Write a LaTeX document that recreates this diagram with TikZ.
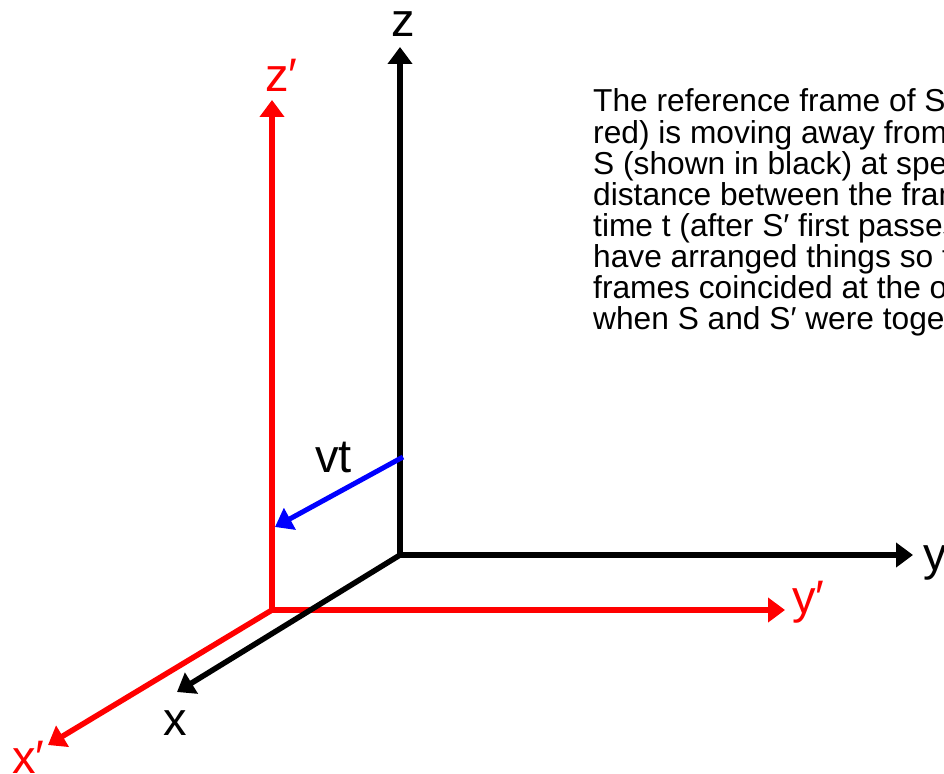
\documentclass[tikz,border=0pt]{standalone}
\usepackage{fontspec}
\setmainfont{Liberation Sans}
\usetikzlibrary{arrows.meta}
\definecolor{pred}{RGB}{255,0,0}
\definecolor{pblue}{RGB}{0,0,255}
\begin{document}
\begin{tikzpicture}[x=1pt,y=-1pt,
  axisline/.style={line width=5.5pt, line join=miter},
  tipend/.style={-{Triangle[length=17pt,width=24pt]}},
  tipboth/.style={{Triangle[length=17pt,width=24pt]}-{Triangle[length=17pt,width=24pt]}},
  lab/.style={font=\fontsize{47}{47}\selectfont, inner sep=0pt, anchor=base west},
  body/.style={font=\fontsize{31.7}{31}\selectfont, inner sep=0pt, anchor=base west}]
\useasboundingbox (0,0) rectangle (944,773);
\clip (0,0) rectangle (944,773);
% coordinates
\coordinate (O) at (400,555);
\coordinate (ztip) at (400,47);
\coordinate (ytip) at (913,555);
\coordinate (xtip) at (177,692);
\coordinate (Op) at (272,610);
\coordinate (zptip) at (272,100);
\coordinate (yptip) at (785,610);
\coordinate (xptip) at (48,745);
\coordinate (vs) at (403,457);
\coordinate (vtip) at (275,527);
% red frame S'
\draw[axisline, pred, tipboth] (zptip) -- (Op) -- (yptip);
\draw[axisline, pred, tipend] (Op) -- (xptip);
% black frame S
\draw[axisline, black, tipboth] (ztip) -- (O) -- (ytip);
\draw[axisline, black, tipend] (O) -- (xtip);
% blue vt arrow
\draw[line width=5pt, pblue, tipend] (vs) -- (vtip);
% labels
\node[lab, anchor=base] (lz) at (403,37) {z};
\node[lab] (ly) at (923,570) {y};
\node[lab] (lx) at (163,735) {x};
\node[lab, text=pred] (lzp) at (265,92) {z′};
\node[lab, text=pred] (lyp) at (792,613) {y′};
\node[lab, text=pred] (lxp) at (12,773) {x′};
\node[lab] (lvt) at (315,472) {vt};
% description text
\node[body] (t1) at (593,112) {The reference frame of S};
\node[body] (t2) at (593,143) {red) is moving away from};
\node[body] (t3) at (593,174) {S (shown in black) at spe};
\node[body] (t4) at (593,205) {distance between the fram};
\node[body] (t5) at (593,236) {time t (after S′ first passes};
\node[body] (t6) at (593,267) {have arranged things so t};
\node[body] (t7) at (593,298) {frames coincided at the o};
\node[body] (t8) at (593,329) {when S and S′ were toge};
\end{tikzpicture}
\end{document}
